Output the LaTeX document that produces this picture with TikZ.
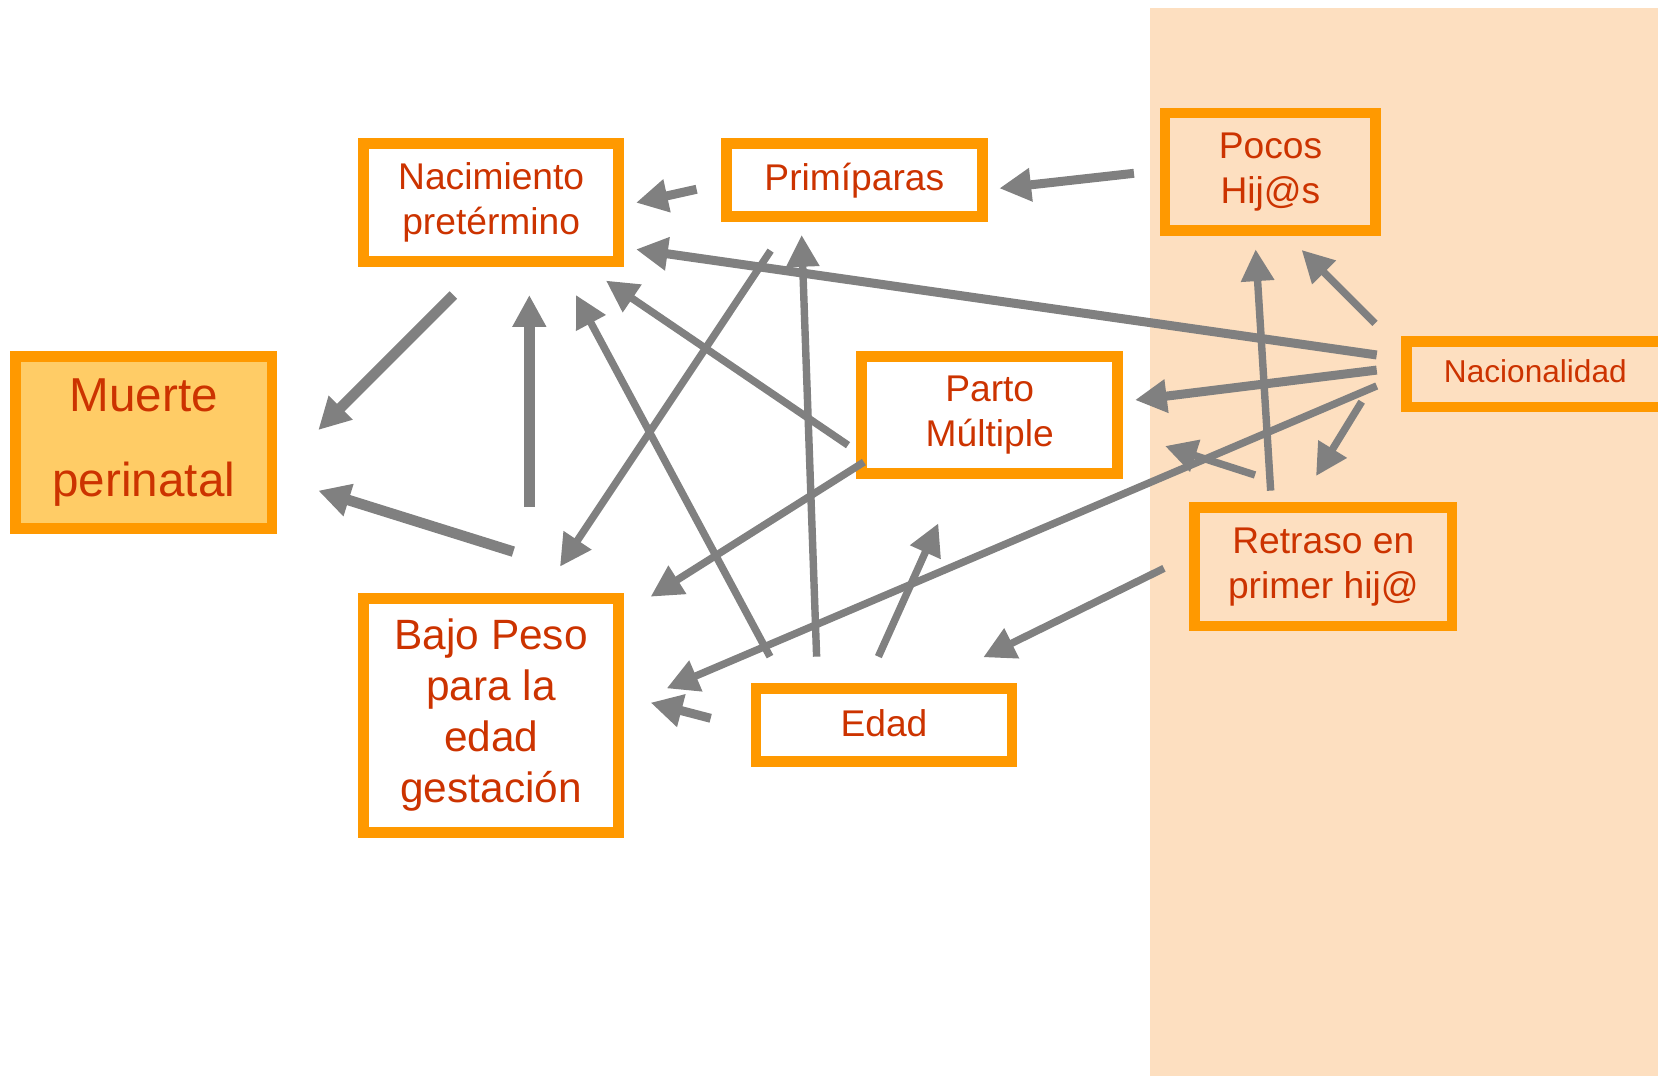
\documentclass[tikz,border=0pt]{standalone}
\usepackage{fontspec}
\setmainfont{Liberation Sans}
\usetikzlibrary{arrows.meta}
\definecolor{txt}{HTML}{CC3300}
\definecolor{brd}{HTML}{FF9900}
\definecolor{peach}{HTML}{FDDFC0}
\definecolor{mfill}{HTML}{FFCC66}
\definecolor{agray}{HTML}{808080}
\begin{document}
\begin{tikzpicture}[x=0.01cm,y=-0.01cm,
  box/.style={draw=brd, line width=0.1cm, text=txt, align=center, inner sep=0pt,
    font=\fontsize{10}{12}\selectfont},
  arr/.style={draw=agray, line width=0.07cm, -{Triangle[length=0.3cm,width=0.3cm]}},
  arrm/.style={arr, line width=0.085cm},
  arrt/.style={arr, line width=0.1cm}]
\useasboundingbox (0,0) rectangle (1568,1018);
\clip (0,0) rectangle (1568,1018);
\fill[peach] (1088,8) rectangle (1568,1018);

\node[box, fill=mfill, minimum width=2.42cm, minimum height=1.63cm,
  font=\fontsize{12.8}{23}\selectfont] (muerte) at (136,418.5) {Muerte\\perinatal};
\node[box, minimum width=2.41cm, minimum height=1.11cm] (nac) at (464.5,191.5) {Nacimiento\\pretérmino};
\node[box, minimum width=2.42cm, minimum height=0.69cm] (prim) at (808,170.5) {Primíparas};
\node[box, minimum width=1.99cm, minimum height=1.11cm] (pocos) at (1201.5,162.5) {Pocos\\Hij@s};
\node[box, minimum width=2.44cm, minimum height=0.62cm, text depth=1.7pt, font=\fontsize{8.5}{10}\selectfont] (nacio) at (1452,354) {Nacionalidad};
\node[box, minimum width=2.42cm, minimum height=1.11cm] (parto) at (936,392.5) {Parto\\Múltiple};
\node[box, minimum width=2.43cm, minimum height=1.12cm] (retraso) at (1251.5,536) {Retraso en\\primer hij@};
\node[box, minimum width=2.41cm, minimum height=2.21cm, font=\fontsize{11.4}{13.7}\selectfont] (bajo) at (464.5,676.5) {Bajo Peso\\para la\\edad\\gestación};
\node[box, minimum width=2.42cm, minimum height=0.69cm, text depth=1.1pt] (edad) at (836,685.5) {Edad};

% arrows
\draw[arrt] ([shift={(-35.8,87.5)}]nac.center) -- ([shift={(165,-11.8)}]muerte.center);
\draw[arrt] ([shift={(21,-154.8)}]bajo.center) -- ([shift={(165,45.5)}]muerte.center);
\draw[arrt] ([shift={(36.1,-197.3)}]bajo.center) -- ([shift={(36.1,87.5)}]nac.center);
\draw[arrm] ([shift={(-149.2,8.5)}]prim.center) -- ([shift={(137,0.2)}]nac.center);
\draw[arrm] ([shift={(-129.1,1.4)}]pocos.center) -- ([shift={(137.1,7.6)}]prim.center);
\draw[arrm] ([shift={(-150,-18.3)}]nacio.center) -- ([shift={(137,44.3)}]nac.center);
\draw[arr] ([shift={(-151.7,-48.2)}]nacio.center) -- ([shift={(29.5,73.9)}]pocos.center);
\draw[arrm] ([shift={(-150,-4)}]nacio.center) -- ([shift={(137.4,-14.2)}]parto.center);
\draw[arr] ([shift={(-150,11)}]nacio.center) -- ([shift={(166,-25.5)}]bajo.center);
\draw[arr] ([shift={(-164.2,25.9)}]nacio.center) -- ([shift={(-6.9,-85.8)}]retraso.center);
\draw[arr] ([shift={(-49.8,-72)}]retraso.center) -- ([shift={(-14,73.3)}]pocos.center);
\draw[arr] ([shift={(-64.6,-86.8)}]retraso.center) -- ([shift={(165.8,29.3)}]parto.center);
\draw[arr] ([shift={(-150.7,1.5)}]retraso.center) -- ([shift={(93.9,-63.9)}]edad.center);
\draw[arr] ([shift={(-134,28.5)}]parto.center) -- ([shift={(108.6,73.9)}]nac.center);
\draw[arr] ([shift={(-119,44.5)}]parto.center) -- ([shift={(150.8,-112.2)}]bajo.center);
\draw[arr] ([shift={(-79.2,66.5)}]prim.center) -- ([shift={(65.1,-140.6)}]bajo.center);
\draw[arr] ([shift={(-107.8,-64.5)}]edad.center) -- ([shift={(80.2,87.5)}]nac.center);
\draw[arr] ([shift={(-63.7,-64.5)}]edad.center) -- ([shift={(-49.9,51.7)}]prim.center);
\draw[arr] ([shift={(-5.3,-64.5)}]edad.center) -- ([shift={(-48.6,102.4)}]parto.center);
\draw[arrm] ([shift={(-163.9,-6.2)}]edad.center) -- ([shift={(150.8,-12)}]bajo.center);
\end{tikzpicture}
\end{document}
